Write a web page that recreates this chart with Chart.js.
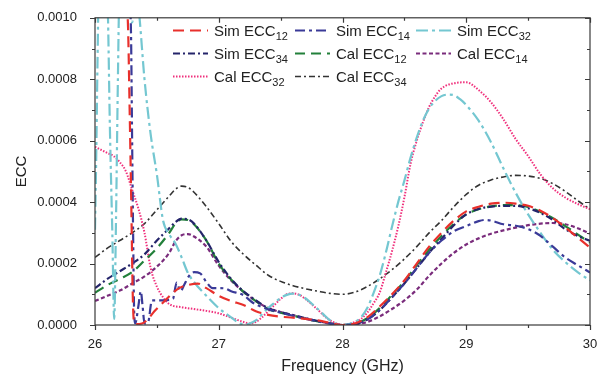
<!DOCTYPE html>
<html>
<head>
<meta charset="utf-8">
<script src="https://cdn.jsdelivr.net/npm/chart.js@4.4.1/dist/chart.umd.min.js"></script>
<style>
  body { margin: 0; background: #fff; }
  canvas { display: block; }
</style>
</head>
<body>
<canvas id="ecc" width="603" height="376"></canvas>
<script>
// shared frequency grid (GHz) for the smooth curves
var freqGrid = [26.0,26.1,26.2,26.3,26.4,26.5,26.6,26.65,26.7,26.75,26.8,26.9,
  27.0,27.1,27.2,27.3,27.4,27.5,27.6,27.7,27.8,27.9,28.0,28.1,28.2,28.3,28.4,28.5,
  28.6,28.7,28.8,28.9,29.0,29.1,29.2,29.3,29.4,29.5,29.6,29.7,29.8,29.9,30.0];

var simEcc34 = [1.2e-4,1.5e-4,1.75e-4,2.0e-4,2.3e-4,2.75e-4,3.15e-4,3.35e-4,3.46e-4,3.44e-4,3.3e-4,2.75e-4,
  2.05e-4,1.5e-4,1.1e-4,0.8e-4,0.55e-4,0.42e-4,0.32e-4,0.22e-4,0.13e-4,0.05e-4,0,0.03e-4,0.18e-4,0.48e-4,0.9e-4,1.35e-4,
  1.85e-4,2.35e-4,2.8e-4,3.25e-4,3.6e-4,3.78e-4,3.85e-4,3.88e-4,3.88e-4,3.8e-4,3.65e-4,3.42e-4,3.12e-4,2.9e-4,2.74e-4];

var calEcc12 = [1.05e-4,1.3e-4,1.5e-4,1.72e-4,2.1e-4,2.5e-4,3.0e-4,3.3e-4,3.44e-4,3.42e-4,3.28e-4,2.75e-4,
  2.0e-4,1.48e-4,1.08e-4,0.78e-4,0.52e-4,0.4e-4,0.31e-4,0.2e-4,0.12e-4,0.05e-4,0,0.04e-4,0.22e-4,0.55e-4,0.98e-4,1.42e-4,
  1.95e-4,2.45e-4,2.9e-4,3.3e-4,3.6e-4,3.77e-4,3.86e-4,3.9e-4,3.9e-4,3.84e-4,3.68e-4,3.48e-4,3.22e-4,2.95e-4,2.68e-4];

var calEcc14 = [0.78e-4,0.95e-4,1.12e-4,1.35e-4,1.58e-4,1.9e-4,2.35e-4,2.72e-4,2.92e-4,2.96e-4,2.88e-4,2.55e-4,
  1.93e-4,1.45e-4,1.08e-4,0.78e-4,0.55e-4,0.42e-4,0.32e-4,0.22e-4,0.13e-4,0.05e-4,0,0.02e-4,0.1e-4,0.28e-4,0.52e-4,0.8e-4,
  1.15e-4,1.6e-4,2.0e-4,2.35e-4,2.62e-4,2.82e-4,2.97e-4,3.08e-4,3.17e-4,3.25e-4,3.3e-4,3.32e-4,3.28e-4,3.15e-4,2.97e-4];

var calEcc34 = [2.2e-4,2.5e-4,2.75e-4,3.0e-4,3.3e-4,3.75e-4,4.2e-4,4.42e-4,4.52e-4,4.48e-4,4.32e-4,3.85e-4,
  3.3e-4,2.72e-4,2.3e-4,1.95e-4,1.62e-4,1.42e-4,1.28e-4,1.18e-4,1.1e-4,1.03e-4,1.0e-4,1.07e-4,1.25e-4,1.5e-4,1.8e-4,2.15e-4,
  2.55e-4,3.0e-4,3.4e-4,3.85e-4,4.25e-4,4.55e-4,4.72e-4,4.82e-4,4.87e-4,4.85e-4,4.77e-4,4.6e-4,4.35e-4,4.05e-4,3.77e-4];

// curves with their own sampling (sharp resonances near 26.3 GHz)
var simEcc12F = [26.255,26.267,26.28,26.293,26.305,26.315,26.33,26.38,26.43,26.48,26.53,26.58,26.63,26.68,26.75,26.83,
  26.9,27.0,27.1,27.2,27.3,27.4,27.5,27.6,27.7,27.8,27.9,28.0,28.1,28.2,28.3,28.4,28.5,28.6,28.7,28.8,28.9,
  29.0,29.1,29.2,29.3,29.4,29.5,29.6,29.7,29.8,29.9,30.0];
var simEcc12 = [10.5e-4,9.7e-4,7.0e-4,4.0e-4,1.0e-4,0.1e-4,0.03e-4,0.05e-4,0.2e-4,0.45e-4,0.65e-4,0.85e-4,1.05e-4,1.2e-4,1.3e-4,1.35e-4,
  1.2e-4,0.95e-4,0.78e-4,0.65e-4,0.45e-4,0.33e-4,0.27e-4,0.24e-4,0.2e-4,0.15e-4,0.07e-4,0,0.05e-4,0.25e-4,0.6e-4,1.0e-4,1.45e-4,2.0e-4,2.55e-4,3.0e-4,3.4e-4,
  3.7e-4,3.85e-4,3.95e-4,3.98e-4,3.95e-4,3.88e-4,3.72e-4,3.48e-4,3.18e-4,2.85e-4,2.52e-4];

var simEcc14F = [26.28,26.291,26.3,26.308,26.316,26.325,26.35,26.37,26.385,26.4,26.43,26.46,26.5,26.55,26.6,26.63,
  26.66,26.69,26.72,26.76,26.8,26.85,26.9,26.95,27.0,27.05,27.1,27.2,27.27,27.35,27.45,27.55,27.65,27.75,27.85,28.0,
  28.1,28.2,28.3,28.4,28.5,28.6,28.7,28.8,28.9,29.0,29.1,29.15,29.2,29.3,29.4,29.5,29.6,29.7,29.8,29.9,30.0];
var simEcc14 = [10.5e-4,9.5e-4,6.0e-4,3.0e-4,0.5e-4,0.05e-4,0.6e-4,1.1e-4,0.6e-4,0.05e-4,0.1e-4,0.8e-4,0.8e-4,0.8e-4,0.82e-4,0.85e-4,
  1.38e-4,1.1e-4,1.3e-4,1.6e-4,1.72e-4,1.68e-4,1.4e-4,1.2e-4,1.2e-4,1.19e-4,1.1e-4,0.97e-4,0.74e-4,0.58e-4,0.45e-4,0.35e-4,0.25e-4,0.16e-4,0.08e-4,0,
  0.03e-4,0.18e-4,0.48e-4,0.9e-4,1.35e-4,1.85e-4,2.35e-4,2.75e-4,3.05e-4,3.22e-4,3.38e-4,3.42e-4,3.4e-4,3.28e-4,3.23e-4,3.12e-4,2.9e-4,2.55e-4,2.2e-4,1.95e-4,1.71e-4];

var simEcc32F = [26.0,26.01,26.02,26.03,26.06,26.09,26.105,26.12,26.14,26.155,26.17,26.185,26.2,26.25,26.28,26.3,26.32,26.34,
  26.36,26.4,26.45,26.5,26.55,26.6,26.65,26.7,26.75,26.8,26.9,27.0,27.1,27.15,27.2,27.25,27.3,27.35,27.4,27.45,27.5,27.55,
  27.6,27.65,27.7,27.75,27.8,27.85,27.9,27.95,28.0,28.05,28.1,28.15,28.2,28.25,28.3,28.35,28.4,28.45,28.5,28.55,28.6,28.65,
  28.7,28.75,28.8,28.85,28.9,28.95,29.0,29.1,29.2,29.3,29.4,29.5,29.6,29.7,29.8,29.9,30.0];
var simEcc32 = [3.1e-4,5.5e-4,8.5e-4,11e-4,13e-4,12e-4,10e-4,6.5e-4,3.0e-4,0.2e-4,3.5e-4,8.0e-4,11.5e-4,13e-4,10.5e-4,9.85e-4,10.5e-4,10.8e-4,
  10.0e-4,8.0e-4,6.2e-4,4.9e-4,3.4e-4,2.95e-4,2.65e-4,2.2e-4,1.7e-4,1.4e-4,0.95e-4,0.55e-4,0.25e-4,0.1e-4,0.02e-4,0.05e-4,0.15e-4,0.35e-4,0.55e-4,0.72e-4,0.88e-4,0.98e-4,
  1.02e-4,0.98e-4,0.87e-4,0.7e-4,0.52e-4,0.33e-4,0.15e-4,0.04e-4,0,0.03e-4,0.1e-4,0.25e-4,0.55e-4,1.03e-4,1.6e-4,2.35e-4,3.2e-4,4.0e-4,4.7e-4,5.45e-4,6.1e-4,6.65e-4,
  7.05e-4,7.3e-4,7.45e-4,7.5e-4,7.48e-4,7.35e-4,7.16e-4,6.65e-4,5.95e-4,5.1e-4,4.3e-4,3.6e-4,3.0e-4,2.45e-4,2.05e-4,1.72e-4,1.45e-4];

var calEcc32F = [26.0,26.1,26.15,26.2,26.25,26.3,26.35,26.4,26.45,26.5,26.55,26.6,26.7,26.8,26.9,27.0,27.1,27.2,27.25,27.3,
  27.35,27.4,27.45,27.5,27.55,27.6,27.65,27.7,27.75,27.8,27.85,27.9,27.95,28.0,28.05,28.1,28.15,28.2,28.25,28.3,28.35,28.4,
  28.45,28.5,28.55,28.6,28.65,28.7,28.75,28.8,28.9,29.0,29.1,29.2,29.3,29.4,29.5,29.6,29.7,29.8,29.9,30.0];
var calEcc32 = [5.8e-4,5.6e-4,5.5e-4,5.3e-4,5.0e-4,4.4e-4,3.8e-4,3.0e-4,1.85e-4,1.25e-4,0.9e-4,0.68e-4,0.58e-4,0.52e-4,0.46e-4,0.38e-4,0.24e-4,0.1e-4,0.05e-4,0.1e-4,
  0.25e-4,0.45e-4,0.65e-4,0.85e-4,1.0e-4,1.03e-4,0.98e-4,0.85e-4,0.68e-4,0.5e-4,0.3e-4,0.15e-4,0.05e-4,0,0.03e-4,0.1e-4,0.2e-4,0.4e-4,0.7e-4,1.05e-4,1.7e-4,2.4e-4,
  3.2e-4,4.15e-4,5.25e-4,6.0e-4,6.6e-4,7.1e-4,7.45e-4,7.7e-4,7.87e-4,7.9e-4,7.65e-4,7.25e-4,6.7e-4,6.05e-4,5.5e-4,4.9e-4,4.45e-4,4.15e-4,3.94e-4,3.77e-4];

var seriesNames = ['Sim ECC', 'Sim ECC', 'Sim ECC', 'Sim ECC', 'Cal ECC', 'Cal ECC', 'Cal ECC', 'Cal ECC'];
var seriesPorts = ['12', '14', '32', '34', '12', '14', '32', '34'];

var xTicks = [26, 27, 28, 29, 30];

function pts(f, v) {
  return f.map(function (x, k) { return { x: x, y: v[k] }; });
}

var styles = [
  { c: '#e8302c', w: 2.2, d: [11, 6] },
  { c: '#3a3a98', w: 2.2, d: [10, 4, 3, 4] },
  { c: '#74c7d1', w: 2.2, d: [12, 4, 3, 4] },
  { c: '#24246a', w: 2.2, d: [7, 3, 2, 3] },
  { c: '#22803a', w: 2.2, d: [10, 6] },
  { c: '#7a2c7c', w: 2.2, d: [4, 2.5] },
  { c: '#f0307c', w: 2,   d: [1.5, 1.5] },
  { c: '#333333', w: 1.6, d: [6, 3, 2, 3] }
];

var curves = [
  pts(simEcc12F, simEcc12), pts(simEcc14F, simEcc14), pts(simEcc32F, simEcc32), pts(freqGrid, simEcc34),
  pts(freqGrid, calEcc12), pts(freqGrid, calEcc14), pts(calEcc32F, calEcc32), pts(freqGrid, calEcc34)
];

var datasets = curves.map(function (d, i) {
  return {
    label: seriesNames[i] + seriesPorts[i],
    data: d,
    borderColor: styles[i].c,
    borderWidth: styles[i].w,
    borderDash: styles[i].d,
    pointRadius: 0,
    fill: false,
    clip: 0,
    cubicInterpolationMode: 'monotone'
  };
});

var FONT = 'Arial, "Liberation Sans", sans-serif';

// box round the plot with ticks on all four sides
var frame = {
  id: 'frame',
  afterDatasetsDraw: function (chart) {
    var ctx = chart.ctx, a = chart.chartArea, sx = chart.scales.x, sy = chart.scales.y;
    ctx.save();
    ctx.setLineDash([]);
    ctx.strokeStyle = '#3a3a3a';
    ctx.lineWidth = 1.2;
    ctx.strokeRect(a.left, a.top, a.right - a.left, a.bottom - a.top);
    ctx.beginPath();
    sx.ticks.forEach(function (t) {
      var px = Math.round(sx.getPixelForValue(t.value)) + 0.5;
      var len = Number.isInteger(t.value) ? 5 : 3;
      ctx.moveTo(px, a.bottom); ctx.lineTo(px, a.bottom + len);
      ctx.moveTo(px, a.top); ctx.lineTo(px, a.top + len);
    });
    sy.ticks.forEach(function (t, i) {
      var py = Math.round(sy.getPixelForValue(t.value)) + 0.5;
      var len = i % 2 === 0 ? 5 : 3;
      ctx.moveTo(a.left, py); ctx.lineTo(a.left - len, py);
      ctx.moveTo(a.right, py); ctx.lineTo(a.right - len, py);
    });
    ctx.stroke();
    ctx.restore();
  }
};

// legend inside the plot, three columns, with subscripted port numbers
var legendRows = [30, 53, 76];
var legendCols = [173, 295, 416];
var legendText = [214, 336, 457];
var legendBox = {
  id: 'legendBox',
  afterDatasetsDraw: function (chart) {
    var ctx = chart.ctx;
    ctx.save();
    chart.data.datasets.forEach(function (ds, i) {
      var y = legendRows[Math.floor(i / 3)] + 0.5;
      var col = i % 3;
      ctx.strokeStyle = ds.borderColor;
      ctx.lineWidth = ds.borderWidth;
      ctx.setLineDash(ds.borderDash);
      ctx.beginPath();
      ctx.moveTo(legendCols[col], y);
      ctx.lineTo(legendCols[col] + 35, y);
      ctx.stroke();
      ctx.fillStyle = '#222';
      ctx.textBaseline = 'alphabetic';
      ctx.font = '15px ' + FONT;
      var tx = legendText[col];
      ctx.fillText(seriesNames[i], tx, y + 5.5);
      var w = ctx.measureText(seriesNames[i]).width;
      ctx.font = '11px ' + FONT;
      ctx.fillText(seriesPorts[i], tx + w, y + 9);
    });
    ctx.restore();
  }
};

new Chart(document.getElementById('ecc'), {
  type: 'line',
  data: { datasets: datasets },
  options: {
    responsive: false,
    animation: false,
    layout: { padding: { top: 15, right: 13 } },
    plugins: { legend: { display: false }, tooltip: { enabled: false } },
    scales: {
      x: {
        type: 'linear', min: 26, max: 30,
        afterFit: function (s) { s.height = 51; },
        grid: { display: false },
        border: { display: false },
        ticks: {
          stepSize: 0.5, autoSkip: false, maxRotation: 0, padding: 4,
          color: '#222', font: { family: FONT, size: 13 },
          callback: function (v) { return xTicks.indexOf(v) >= 0 ? String(v) : ''; }
        },
        title: {
          display: true, text: 'Frequency (GHz)', color: '#222',
          font: { family: FONT, size: 16 }, padding: { top: 2, bottom: 0 }
        }
      },
      y: {
        min: 0, max: 0.001,
        afterFit: function (s) { s.width = 95; },
        grid: { display: false },
        border: { display: false },
        ticks: {
          stepSize: 0.0001, autoSkip: false, padding: 10,
          color: '#222', font: { family: FONT, size: 13 },
          callback: function (v, i) { return i % 2 === 0 ? v.toFixed(4) : ''; }
        },
        title: {
          display: true, text: 'ECC', color: '#222',
          font: { family: FONT, size: 15 }, padding: { top: 13, bottom: 0 }
        }
      }
    }
  },
  plugins: [frame, legendBox]
});
</script>
</body>
</html>
